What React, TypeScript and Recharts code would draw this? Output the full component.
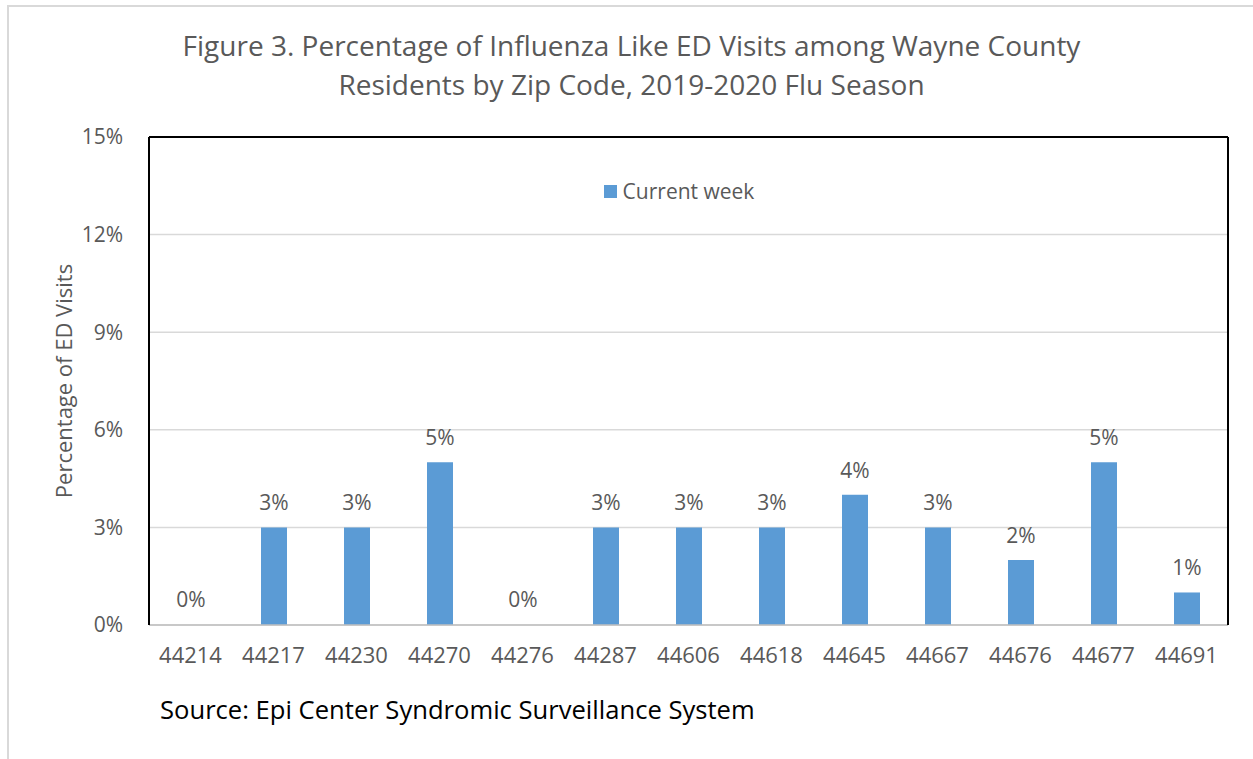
import {
  BarChart,
  Bar,
  Cell,
  XAxis,
  YAxis,
  CartesianGrid,
  Legend,
  LabelList,
} from "recharts";

const zipCodes = [
  "44214", "44217", "44230", "44270", "44276", "44287", "44606",
  "44618", "44645", "44667", "44676", "44677", "44691",
];
const currentWeek = [0, 3, 3, 5, 0, 3, 3, 3, 4, 3, 2, 5, 1];
const yTicks = [0, 3, 6, 9, 12, 15];

const data = zipCodes.map((zip, i) => ({ zip, current: currentWeek[i] }));

const FONT = "'Open Sans', sans-serif";
const GRAY = "#595959";
const BLUE = "#5B9BD5";

function LegendBox() {
  return (
    <div style={{ display: "flex", alignItems: "center", justifyContent: "center", fontFamily: FONT, fontSize: 21, color: GRAY }}>
      <span style={{ width: 13, height: 13, background: BLUE, marginRight: 6, display: "inline-block" }} />
      Current week
    </div>
  );
}

// value label drawn above each bar, including the zero ones
function ValueLabel(props: any) {
  const { x, y, width, value } = props;
  return (
    <text
      x={Number(x) + Number(width) / 2}
      y={Number(y) - 17}
      textAnchor="middle"
      fill={GRAY}
      fontSize={21}
      fontFamily={FONT}
    >
      {`${value}%`}
    </text>
  );
}

export default function App() {
  return (
    <div style={{ position: "absolute", left: 0, top: 0, width: 1253, height: 759, background: "#fff", overflow: "hidden" }}>
      <div style={{ position: "absolute", left: 7, top: 5, width: 1300, height: 800, border: "2px solid #d9d9d9" }} />
      <div
        style={{
          position: "absolute",
          left: 0,
          top: 26,
          width: 1263,
          textAlign: "center",
          fontFamily: FONT,
          fontSize: 28,
          lineHeight: "39px",
          color: GRAY,
        }}
      >
        Figure 3. Percentage of Influenza Like ED Visits among Wayne County
        <br />
        Residents by Zip Code, 2019-2020 Flu Season
      </div>
      <div style={{ position: "absolute", left: 0, top: 0 }}>
        <BarChart
          width={1253}
          height={759}
          data={data}
          margin={{ top: 136, right: 24, left: 0, bottom: 0 }}
          barSize={26}
        >
          <CartesianGrid vertical={false} stroke="#d9d9d9" strokeWidth={1.5} />
          <XAxis
            dataKey="zip"
            height={134}
            tickLine={false}
            axisLine={{ stroke: "#bfbfbf", strokeWidth: 1.5 }}
            tick={{ fill: GRAY, fontSize: 22, fontFamily: FONT }}
            tickMargin={16}
            interval={0}
          />
          <XAxis xAxisId="top" orientation="top" dataKey="zip" height={1} tick={false} tickLine={false} axisLine={{ stroke: "#000", strokeWidth: 2 }} />
          <YAxis
            width={149}
            domain={[0, 15]}
            ticks={yTicks}
            interval={0}
            tickFormatter={(v) => `${v}%`}
            tickLine={false}
            axisLine={{ stroke: "#000", strokeWidth: 2 }}
            tick={{ fill: GRAY, fontSize: 21, fontFamily: FONT }}
            tickMargin={20}
            label={{
              value: "Percentage of ED Visits",
              angle: -90,
              position: "insideLeft",
              offset: 64,
              style: { textAnchor: "middle", fill: GRAY, fontSize: 22, fontFamily: FONT },
            }}
          />
          <YAxis yAxisId="right" orientation="right" width={1} domain={[0, 15]} tick={false} tickLine={false} axisLine={{ stroke: "#000", strokeWidth: 2 }} />
          <Legend
            layout="horizontal"
            verticalAlign="middle"
            align="center"
            content={() => <LegendBox />}
            wrapperStyle={{ top: 177, left: 0, width: 1358 }}
          />
          <Bar
            dataKey="current"
            name="Current week"
            fill={BLUE}
            minPointSize={(v: any) => (v === 0 ? 1 : 0)}
            isAnimationActive={false}
          >
            {data.map((d) => (
              <Cell key={d.zip} fill={d.current === 0 ? "transparent" : BLUE} />
            ))}
            <LabelList dataKey="current" content={ValueLabel} />
          </Bar>
        </BarChart>
      </div>
      <div style={{ position: "absolute", left: 160, top: 692, fontFamily: FONT, fontSize: 25.6, color: "#000" }}>
        Source: Epi Center Syndromic Surveillance System
      </div>
    </div>
  );
}
